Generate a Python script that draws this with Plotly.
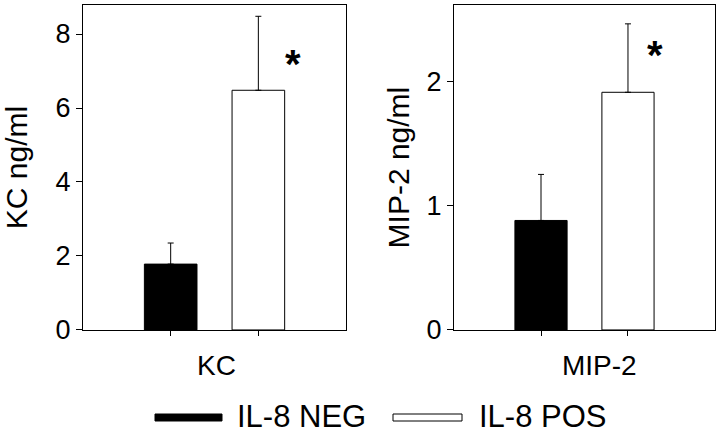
import plotly.graph_objects as go

# ---- data ----
groups = ["IL-8 NEG", "IL-8 POS"]
cat_keys = ["NEG", "POS"]
kc_values = [1.78, 6.48]
kc_err = [0.57, 2.00]
mip_values = [0.88, 1.91]
mip_err = [0.37, 0.55]
panel_labels = ["KC", "MIP-2"]
y_titles = ["KC ng/ml", "MIP-2 ng/ml"]
kc_ticks = [0, 2, 4, 6, 8]
mip_ticks = [0, 1, 2]
star_y = [7.19, 2.21]

colors = ["black", "white"]
FONT = "Liberation Sans, Arial, Helvetica, sans-serif"

fig = go.Figure()

panels = [
    ("x", "y", kc_values, kc_err),
    ("x2", "y2", mip_values, mip_err),
]
for xa, ya, vals, errs in panels:
    for i in range(2):
        fig.add_trace(go.Bar(
            x=[cat_keys[i]], y=[vals[i]],
            xaxis=xa, yaxis=ya,
            name=groups[i], showlegend=False,
            width=0.6,
            marker=dict(color=colors[i], line=dict(color="black", width=1)),
            error_y=dict(type="data", symmetric=False, array=[errs[i]],
                         arrayminus=[0], color="black", thickness=1, width=3),
        ))

axis_common = dict(showline=True, mirror=True, linecolor="black", linewidth=1,
                   showgrid=False, zeroline=False, automargin=False)

fig.update_layout(
    template="none",
    width=720, height=433,
    paper_bgcolor="white", plot_bgcolor="white",
    margin=dict(l=0, r=0, t=0, b=0),
    barmode="overlay",
    showlegend=False,
    font=dict(family=FONT, color="black", size=27),
    xaxis=dict(domain=[0.1153, 0.4806], type="category",
               categoryorder="array", categoryarray=cat_keys,
               range=[-1.0, 2.0], showticklabels=False,
               ticks="outside", ticklen=5, tickcolor="black",
               anchor="y", **axis_common),
    yaxis=dict(domain=[0.238, 0.988], range=[0, 8.78],
               tickvals=kc_ticks, ticks="outside", ticklen=6, tickcolor="black",
               tickfont=dict(size=27),
               title=dict(text=y_titles[0], font=dict(size=30), standoff=22),
               anchor="x", **axis_common),
    xaxis2=dict(domain=[0.6306, 0.993], type="category",
                categoryorder="array", categoryarray=cat_keys,
                range=[-1.0, 2.0], showticklabels=False,
                ticks="outside", ticklen=5, tickcolor="black",
                anchor="y2", **axis_common),
    yaxis2=dict(domain=[0.238, 0.988], range=[0, 2.61],
                tickvals=mip_ticks, ticks="outside", ticklen=6, tickcolor="black",
                tickfont=dict(size=27),
                title=dict(text=y_titles[1], font=dict(size=30), standoff=8),
                anchor="x2", **axis_common),
)

# panel (category) labels below each x axis
for xa, lbl, px in [("x", panel_labels[0], 0.506), ("x2", panel_labels[1], 0.559)]:
    fig.add_annotation(x=px, y=-0.11, xref=f"{xa} domain", yref=f"{'y' if xa == 'x' else 'y2'} domain",
                       text=lbl, showarrow=False, xanchor="center", yanchor="middle",
                       font=dict(size=28))

# significance asterisks
for xa, ya, sx, sy in [("x", "y", 1.4, star_y[0]), ("x2", "y2", 1.31, star_y[1])]:
    fig.add_annotation(x=sx, y=sy, xref=xa, yref=ya, text="<b>*</b>",
                       showarrow=False, font=dict(size=40, family=FONT),
                       yanchor="middle")

# legend (drawn manually to match wide swatches)
fig.add_shape(type="rect", xref="paper", yref="paper",
              x0=155/720, x1=222/720, y0=1-421/433, y1=1-414/433,
              fillcolor="black", line=dict(color="black", width=1))
fig.add_annotation(x=235/720, y=1-416/433, xref="paper", yref="paper",
                   text=groups[0], showarrow=False, xanchor="left",
                   yanchor="middle", font=dict(size=31))
fig.add_shape(type="rect", xref="paper", yref="paper",
              x0=393/720, x1=462/720, y0=1-421/433, y1=1-414/433,
              fillcolor="white", line=dict(color="black", width=1))
fig.add_annotation(x=477/720, y=1-416/433, xref="paper", yref="paper",
                   text=groups[1], showarrow=False, xanchor="left",
                   yanchor="middle", font=dict(size=31))

fig.write_html("out.html",
               config={"displayModeBar": False},
               post_script="document.body.style.margin='0';document.body.style.overflow='hidden';")
